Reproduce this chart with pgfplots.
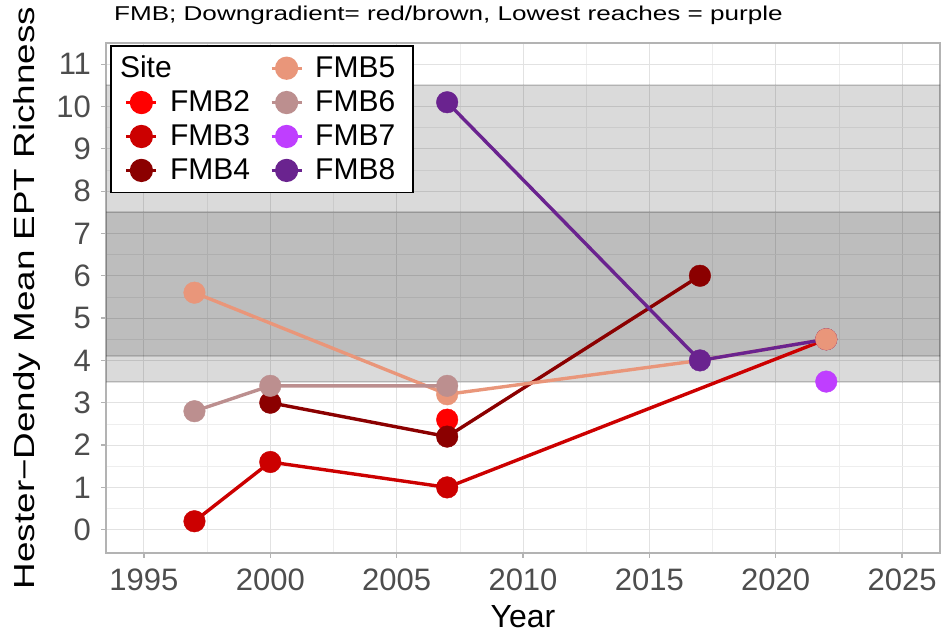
\documentclass[border=0pt]{standalone}
\usepackage{pgfplots}
\pgfplotsset{compat=1.18}
\usepackage{pgfplotstable}
\usepackage{graphicx}
\usepackage{fontspec}
\setmainfont{Liberation Sans}

\definecolor{fmbb}{HTML}{FF0000}
\definecolor{fmbc}{HTML}{CC0000}
\definecolor{fmbd}{HTML}{8B0000}
\definecolor{fmbe}{HTML}{E9967A}
\definecolor{fmbf}{HTML}{BC8F8F}
\definecolor{fmbg}{HTML}{BF3EFF}
\definecolor{fmbh}{HTML}{6A238F}
\definecolor{gridmaj}{HTML}{E2E2E2}
\definecolor{gridmin}{HTML}{EEEEEE}
\definecolor{panelframe}{HTML}{B3B3B3}
\definecolor{ticktext}{HTML}{4D4D4D}

% one table per site
\pgfplotstableread{
year val
2007 2.6
}\fmbtwo
\pgfplotstableread{
year val
1997 0.2
2000 1.6
2007 1.0
2022 4.5
}\fmbthree
\pgfplotstableread{
year val
2000 3.0
2007 2.2
2017 6.0
}\fmbfour
\pgfplotstableread{
year val
1997 5.6
2007 3.2
2017 4.0
2022 4.5
}\fmbfive
\pgfplotstableread{
year val
1997 2.8
2000 3.4
2007 3.4
}\fmbsix
\pgfplotstableread{
year val
2022 3.5
}\fmbseven
\pgfplotstableread{
year val
2007 10.1
2017 4.0
2022 4.5
}\fmbeight
% reference bands (corners)
\pgfplotstableread{
x y
1990 3.5
2030 3.5
2030 10.5
1990 10.5
}\bandouter
\pgfplotstableread{
x y
1990 4.1
2030 4.1
2030 7.5
1990 7.5
}\bandinner

\pgfplotsset{
  siteline/.style={no marks, line width=1.7pt, color=#1, forget plot},
  sitepts/.style={only marks, mark=*, mark size=5.4pt, color=#1,
    mark options={fill=#1, draw=#1, line width=0.2pt}, forget plot},
}

\begin{document}
\begin{tikzpicture}
\useasboundingbox (0,0) rectangle (471.5pt,318pt);
\begin{axis}[
  at={(53pt,41.5pt)}, anchor=south west,
  scale only axis, width=417pt, height=255pt,
  xmin=1993.5, xmax=2026.5, ymin=-0.55, ymax=11.5,
  xtick={1995,2000,...,2025}, ytick={0,1,...,11},
  minor xtick={1997.5,2002.5,...,2022.5},
  minor ytick={0.5,1.5,...,10.5},
  grid=both,
  major grid style={gridmaj, line width=0.5pt},
  minor grid style={gridmin, line width=0.3pt},
  axis line style={panelframe, line width=0.6pt},
  major tick style={panelframe, line width=0.6pt},
  major tick length=2.5pt, minor tick length=0pt,
  tick align=outside, xtick pos=bottom, ytick pos=left,
  ticklabel style={font=\fontsize{15.5}{18}\selectfont, text=ticktext},
  xticklabel style={yshift=-2pt},
  yticklabel style={xshift=-1.5pt},
  /pgf/number format/assume math mode=true,
  /pgf/number format/1000 sep={},
  xlabel={Year},
  xlabel style={at={(axis description cs:0.5,-0.125)}, anchor=center,
    font=\fontsize{16}{19}\selectfont},
  ylabel={\scalebox{1.27}[1]{Hester−Dendy Mean EPT Richness}},
  ylabel style={at={(axis description cs:-0.0947,0.5)}, anchor=center,
    font=\fontsize{14.5}{17}\selectfont},
  legend columns=2,
  legend cell align=left,
  legend image code/.code={
    \draw[mark repeat=2, mark phase=2, #1]
      plot coordinates {(0pt,0pt) (7.5pt,0pt) (15pt,0pt)};
  },
  legend style={at={(axis description cs:0.0048,0.996)}, anchor=north west,
    draw=black, line width=0.8pt, fill=white,
    font=\fontsize{15}{17}\selectfont,
    row sep=1pt, inner xsep=7pt, inner ysep=3pt,
    /tikz/every odd column/.append style={column sep=4pt},
    /tikz/every even column/.append style={column sep=8pt}},
]
% bands
\addplot[draw=black, draw opacity=0.12, line width=1pt,
  fill=black, fill opacity=0.145, forget plot] table {\bandouter} -- cycle;
\addplot[draw=black, draw opacity=0.14, line width=1pt,
  fill=black, fill opacity=0.133, forget plot] table {\bandinner} -- cycle;

% lines
\addplot[siteline=fmbc] table[x=year, y=val] {\fmbthree};
\addplot[siteline=fmbd] table[x=year, y=val] {\fmbfour};
\addplot[siteline=fmbe] table[x=year, y=val] {\fmbfive};
\addplot[siteline=fmbf] table[x=year, y=val] {\fmbsix};
\addplot[siteline=fmbh] table[x=year, y=val] {\fmbeight};

% points
\addplot[sitepts=fmbc] table[x=year, y=val] {\fmbthree};
\addplot[sitepts=fmbb] table[x=year, y=val] {\fmbtwo};
\addplot[sitepts=fmbd] table[x=year, y=val] {\fmbfour};
\addplot[sitepts=fmbh] table[x=year, y=val] {\fmbeight};
\addplot[sitepts=fmbe, mark indices={1,2,4}] table[x=year, y=val] {\fmbfive};
\addplot[sitepts=fmbf] table[x=year, y=val] {\fmbsix};
\addplot[sitepts=fmbg] table[x=year, y=val] {\fmbseven};

% legend, filled row by row
\addlegendimage{empty legend}
\addlegendentry{\hspace*{-25pt}Site}
\addlegendimage{line width=1.6pt, color=fmbe, mark=*, mark size=5pt}
\addlegendentry{FMB5}
\addlegendimage{line width=1.6pt, color=fmbb, mark=*, mark size=5pt}
\addlegendentry{FMB2}
\addlegendimage{line width=1.6pt, color=fmbf, mark=*, mark size=5pt}
\addlegendentry{FMB6}
\addlegendimage{line width=1.6pt, color=fmbc, mark=*, mark size=5pt}
\addlegendentry{FMB3}
\addlegendimage{line width=1.6pt, color=fmbg, mark=*, mark size=5pt}
\addlegendentry{FMB7}
\addlegendimage{line width=1.6pt, color=fmbd, mark=*, mark size=5pt}
\addlegendentry{FMB4}
\addlegendimage{line width=1.6pt, color=fmbh, mark=*, mark size=5pt}
\addlegendentry{FMB8}
\end{axis}
\node[anchor=base west, font=\fontsize{10}{12}\selectfont]
  at (53.5pt,307.5pt) {\scalebox{1.305}[1]{FMB; Downgradient= red/brown, Lowest reaches = purple}};
\end{tikzpicture}
\end{document}
